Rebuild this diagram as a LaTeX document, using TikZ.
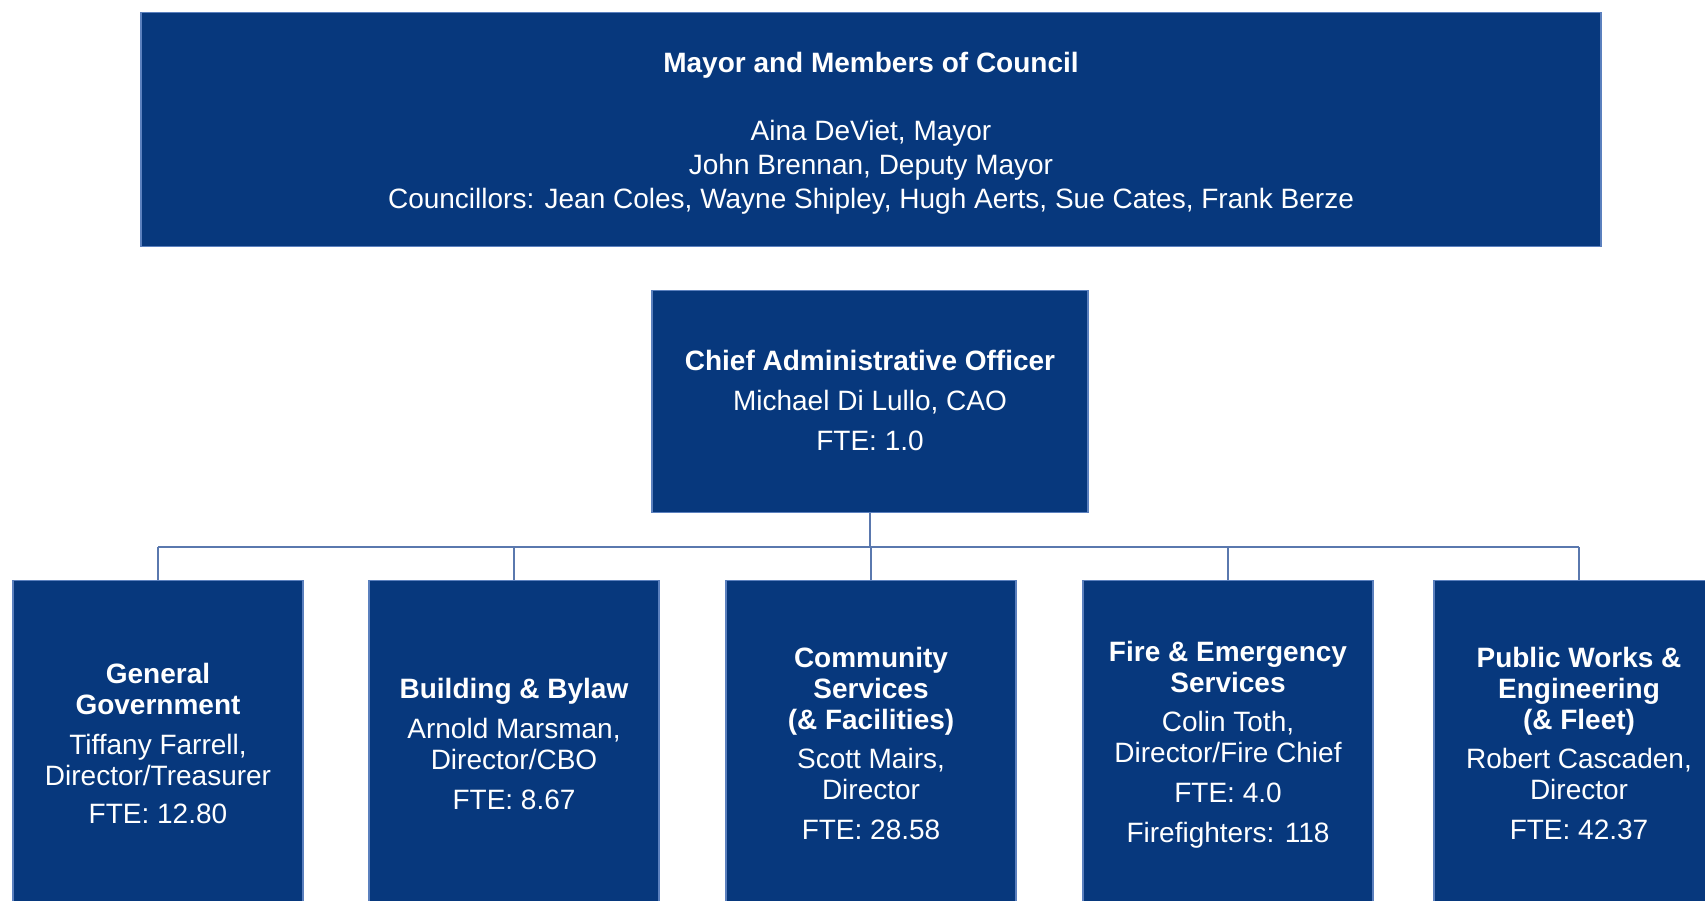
\documentclass[tikz,border=0pt]{standalone}
\usepackage{fontspec}
\setmainfont{Liberation Sans}
\definecolor{boxblue}{HTML}{07387D}
\definecolor{edgeblue}{HTML}{5B80BE}
\definecolor{linkblue}{HTML}{5A78AE}
\begin{document}
\begin{tikzpicture}[x=1pt,y=-1pt,
  box/.style={draw=edgeblue, line width=1.2pt, fill=boxblue, inner sep=0pt, anchor=north},
  deptbox/.style={box, minimum width=290pt, minimum height=330pt},
  txt/.style={text=white, align=center, inner sep=0pt, font=\fontsize{28}{31}\selectfont},
  link/.style={draw=linkblue, line width=2pt}]
\clip (0,0) rectangle (1705,901);
\fill[white] (0,0) rectangle (1705,901);

% boxes
\node[box, minimum width=1460pt, minimum height=234pt] (council) at (871,12) {};
\node[box, minimum width=436pt, minimum height=222pt] (cao) at (870,290) {};
\node[deptbox] (gg) at (158,580) {};
\node[deptbox] (bb) at (514,580) {};
\node[deptbox] (cs) at (871,580) {};
\node[deptbox] (fe) at (1228,580) {};
\node[deptbox] (pw) at (1579,580) {};

% connectors
\coordinate (bus) at (871,547);
\draw[link] (cao.south) -- (cao.south |- bus);
\draw[link] (gg.north |- bus) -- (pw.north |- bus);
\foreach \d in {gg,bb,cs,fe,pw}{
  \draw[link] (\d.north |- bus) -- (\d.north);
}

% texts
\node[txt, font=\fontsize{28}{34}\selectfont] (counciltxt) at (871,133)
  {\textbf{Mayor and Members of Council}\\[34pt]
   Aina DeViet, Mayor\\
   John Brennan, Deputy Mayor\\
   Councillors: Jean Coles, Wayne Shipley, Hugh Aerts, Sue Cates, Frank Berze};
\node[txt, font=\fontsize{28}{40}\selectfont] (caotxt) at (870,400)
  {\textbf{Chief Administrative Officer}\\
   Michael Di Lullo, CAO\\
   FTE: 1.0};
\node[txt] (ggtxt) at (158,743)
  {\textbf{General}\\ \textbf{Government}\\[9pt]
   Tiffany Farrell,\\ Director/Treasurer\\[7pt]
   FTE: 12.80};
\node[txt] (bbtxt) at (514,744)
  {\textbf{Building \& Bylaw}\\[9pt]
   Arnold Marsman,\\ Director/CBO\\[9pt]
   FTE: 8.67};
\node[txt] (cstxt) at (871,743)
  {\textbf{Community}\\ \textbf{Services}\\ \textbf{(\& Facilities)}\\[8pt]
   Scott Mairs,\\ Director\\[9pt]
   FTE: 28.58};
\node[txt] (fetxt) at (1228,745)
  {\textbf{Fire \& Emergency}\\ \textbf{Services}\\[8pt]
   Colin Toth,\\ Director/Fire Chief\\[9pt]
   FTE: 4.0\\[9pt]
   Firefighters: 118};
\node[txt] (pwtxt) at (1579,743)
  {\textbf{Public Works \&}\\ \textbf{Engineering}\\ \textbf{(\& Fleet)}\\[8pt]
   Robert Cascaden,\\ Director\\[9pt]
   FTE: 42.37};
\end{tikzpicture}
\end{document}
